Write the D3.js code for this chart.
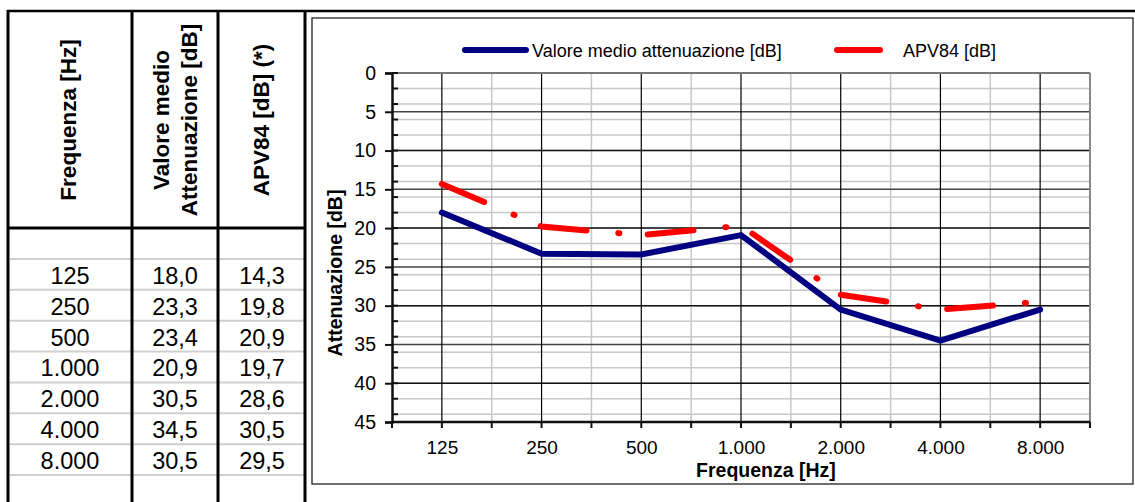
<!DOCTYPE html>
<html>
<head>
<meta charset="utf-8">
<script src="https://cdn.jsdelivr.net/npm/d3@7"></script>
<style>
  body { margin: 0; background: #fff; }
  svg { display: block; font-family: "Liberation Sans", Arial, sans-serif; }
</style>
</head>
<body>
<svg id="chart" width="1135" height="502"></svg>
<script>
var freqLabels = ["125", "250", "500", "1.000", "2.000", "4.000", "8.000"]
var mediaAtt = [18.0, 23.3, 23.4, 20.9, 30.5, 34.5, 30.5]
var apv84 = [14.3, 19.8, 20.9, 19.7, 28.6, 30.5, 29.5]
var mediaText = ["18,0", "23,3", "23,4", "20,9", "30,5", "34,5", "30,5"]
var apvText = ["14,3", "19,8", "20,9", "19,7", "28,6", "30,5", "29,5"]
var yTicks = [0, 5, 10, 15, 20, 25, 30, 35, 40, 45]

const svg = d3.select("#chart")

// ---- table on the left ----
const colLines = [8, 132, 218, 305]
const colCenters = [70, 175, 262]
const rowTop = 259, rowH = 30.86

const tbl = svg.append("g")
// light row rules
d3.range(8).forEach(i => {
    tbl.append("line")
        .attr("x1", 10).attr("x2", 304)
        .attr("y1", rowTop + i * rowH).attr("y2", rowTop + i * rowH)
        .attr("stroke", "#cfcfcf").attr("stroke-width", 2)
})
colLines.forEach(x => {
    tbl.append("line")
        .attr("x1", x).attr("x2", x).attr("y1", 10).attr("y2", 502)
        .attr("stroke", "#000").attr("stroke-width", 3)
})
tbl.append("line").attr("x1", 7).attr("x2", 306).attr("y1", 228).attr("y2", 228)
    .attr("stroke", "#000").attr("stroke-width", 3)
// long top rule across the whole sheet
svg.append("line").attr("x1", 7).attr("x2", 1135).attr("y1", 11).attr("y2", 11)
    .attr("stroke", "#000").attr("stroke-width", 2.5)

// rotated headers
function header (x, lines) {
    var t = tbl.append("text")
        .attr("transform", `translate(${x},120) rotate(-90)`)
        .attr("text-anchor", "middle")
        .attr("font-size", 22.5).attr("font-weight", "bold")
    lines.forEach((l, i) => {
        t.append("tspan").attr("x", 0).attr("y", (i - (lines.length - 1)) * 28).text(l)
    })
}
header(76, ["Frequenza [Hz]"])
header(197, ["Valore medio", "Attenuazione [dB]"])
header(269, ["APV84 [dB] (*)"])

var rows = freqLabels.map((f, i) => [f, mediaText[i], apvText[i]])
rows.forEach((r, i) => {
    r.forEach((v, j) => {
        tbl.append("text")
            .attr("x", colCenters[j]).attr("y", rowTop + (i + 1) * rowH - 6)
            .attr("text-anchor", "middle").attr("font-size", 23.5)
            .text(v)
    })
})

// ---- chart ----
svg.append("rect").attr("x", 312).attr("y", 18).attr("width", 821).attr("height", 466)
    .attr("fill", "#fff").attr("stroke", "#222").attr("stroke-width", 1.3)

const x = d3.scalePoint().domain(freqLabels).range([392, 1090]).padding(0.5)
const y = d3.scaleLinear().domain([0, 45]).range([73, 422])
const half = x.step() / 2
const plot = svg.append("g")

// minor horizontal grid every 2 dB
d3.range(0, 45, 2).forEach(v => {
    plot.append("line").attr("x1", 392).attr("x2", 1090).attr("y1", y(v)).attr("y2", y(v))
        .attr("stroke", "#c8c8c8").attr("stroke-width", 1.5)
})
// minor vertical grid between categories
freqLabels.slice(0, -1).forEach(f => {
    plot.append("line").attr("x1", x(f) + half).attr("x2", x(f) + half).attr("y1", 73).attr("y2", 422)
        .attr("stroke", "#c8c8c8").attr("stroke-width", 1.5)
})
// major grid
yTicks.forEach(v => {
    plot.append("line").attr("x1", 392).attr("x2", 1090).attr("y1", y(v)).attr("y2", y(v))
        .attr("stroke", v % 10 == 0 && v > 0 ? "#111" : "#444").attr("stroke-width", 1.5)
})
freqLabels.forEach(f => {
    plot.append("line").attr("x1", x(f)).attr("x2", x(f)).attr("y1", 73).attr("y2", 422)
        .attr("stroke", "#000").attr("stroke-width", 1.2)
})
// plot edges top/right
plot.append("line").attr("x1", 392).attr("x2", 1090).attr("y1", 73).attr("y2", 73)
    .attr("stroke", "#777").attr("stroke-width", 2)
plot.append("line").attr("x1", 1090).attr("x2", 1090).attr("y1", 73).attr("y2", 422)
    .attr("stroke", "#888").attr("stroke-width", 2)

// y axis
const yAxis = plot.append("g").attr("transform", "translate(392,0)")
    .call(d3.axisLeft(y).tickValues(yTicks).tickSize(7).tickPadding(9))
yAxis.select(".domain").attr("stroke", "#111").attr("stroke-width", 2.5)
yAxis.selectAll(".tick line").attr("stroke", "#111").attr("stroke-width", 2)
yAxis.selectAll(".tick text").attr("font-size", 19.5).attr("font-family", "Liberation Sans").attr("fill", "#000")
// inner minor ticks
d3.range(0, 45, 2).forEach(v => {
    plot.append("line").attr("x1", 392).attr("x2", 398).attr("y1", y(v)).attr("y2", y(v))
        .attr("stroke", "#111").attr("stroke-width", 2)
})

// x axis
const xAxis = plot.append("g").attr("transform", "translate(0,422)")
    .call(d3.axisBottom(x).tickSize(0).tickPadding(19))
xAxis.select(".domain").attr("d", "M392,0H1090").attr("stroke", "#111").attr("stroke-width", 2.5)
xAxis.selectAll(".tick text").attr("font-size", 19).attr("font-family", "Liberation Sans").attr("fill", "#000")
d3.range(15).forEach(i => {
    var px = 392 + i * half
    plot.append("line").attr("x1", px).attr("x2", px).attr("y1", 422).attr("y2", 428)
        .attr("stroke", "#111").attr("stroke-width", 2)
})

// axis titles
svg.append("text").attr("x", 766).attr("y", 477).attr("text-anchor", "middle")
    .attr("font-size", 19.5).attr("font-weight", "bold").text("Frequenza [Hz]")
svg.append("text").attr("transform", "translate(342,273) rotate(-90)").attr("text-anchor", "middle")
    .attr("font-size", 19.5).attr("font-weight", "bold").text("Attenuazione [dB]")

// series
const line = (vals) => d3.line()
    .x((d, i) => x(freqLabels[i]))
    .y(d => y(d))(vals)

plot.append("path").attr("d", line(apv84))
    .attr("fill", "none").attr("stroke", "#ff0000").attr("stroke-width", 6)
    .attr("stroke-linecap", "round").attr("stroke-dasharray", "46 32 1 28.5")
plot.append("path").attr("d", line(mediaAtt))
    .attr("fill", "none").attr("stroke", "#000080").attr("stroke-width", 6)
    .attr("stroke-linecap", "round").attr("stroke-linejoin", "miter")

// legend
const legend = svg.append("g")
legend.append("line").attr("x1", 465).attr("x2", 526).attr("y1", 50).attr("y2", 50)
    .attr("stroke", "#000080").attr("stroke-width", 6).attr("stroke-linecap", "round")
legend.append("text").attr("x", 532).attr("y", 56.5).attr("font-size", 18)
    .text("Valore medio attenuazione [dB]")
legend.append("line").attr("x1", 837).attr("x2", 880).attr("y1", 50).attr("y2", 50)
    .attr("stroke", "#ff0000").attr("stroke-width", 6).attr("stroke-linecap", "round")
legend.append("text").attr("x", 903).attr("y", 56.5).attr("font-size", 18)
    .text("APV84 [dB]")
</script>
</body>
</html>
